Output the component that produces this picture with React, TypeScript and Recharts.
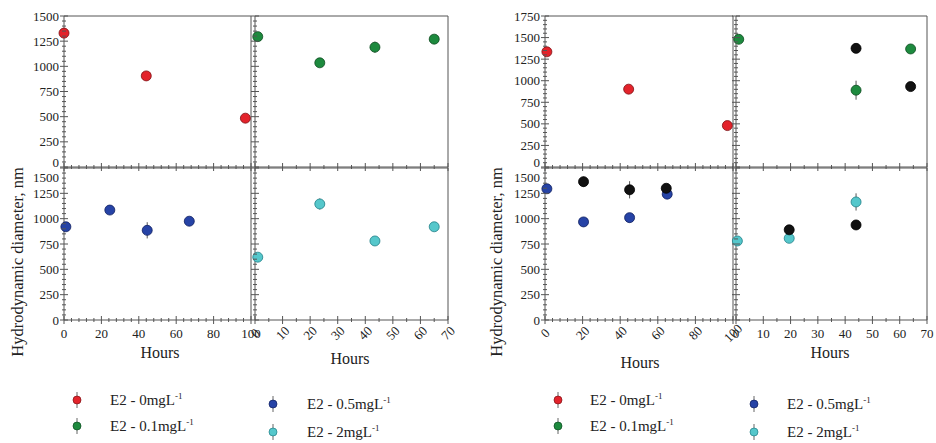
import { ScatterChart, Scatter, XAxis, YAxis, ErrorBar } from 'recharts';

const FONT = '"Liberation Serif", "Times New Roman", serif';

// left figure
const leftRedHours = [0, 44, 97];
const leftRedSize = [1330, 905, 485];
const leftRedErr = [0, 0, 0];
const leftGreenHours = [1, 23.5, 43.5, 65];
const leftGreenSize = [1295, 1035, 1190, 1270];
const leftGreenErr = [20, 35, 55, 20];
const leftBlueHours = [1, 24.5, 44.5, 67];
const leftBlueSize = [920, 1085, 885, 975];
const leftBlueErr = [20, 20, 80, 20];
const leftCyanHours = [1, 23.5, 43.5, 65];
const leftCyanSize = [620, 1145, 780, 920];
const leftCyanErr = [20, 55, 20, 20];

// right figure
const rightRedHours = [1, 44.5, 97];
const rightRedSize = [1335, 902, 480];
const rightRedErr = [0, 0, 0];
const rightGreenHours = [1, 44, 64];
const rightGreenSize = [1480, 890, 1368];
const rightGreenErr = [30, 110, 20];
const rightBlackTopHours = [44, 64];
const rightBlackTopSize = [1375, 932];
const rightBlackTopErr = [55, 20];
const rightBlueHours = [1, 20.5, 45, 65];
const rightBlueSize = [1295, 968, 1010, 1242];
const rightBlueErr = [20, 20, 45, 20];
const rightBlackMidHours = [20.5, 45, 64.5];
const rightBlackMidSize = [1365, 1285, 1300];
const rightBlackMidErr = [50, 85, 30];
const rightCyanHours = [0.5, 19.5, 44];
const rightCyanSize = [780, 806, 1165];
const rightCyanErr = [20, 35, 85];
const rightBlackLowHours = [19.5, 44];
const rightBlackLowSize = [890, 938];
const rightBlackLowErr = [20, 20];

const legendLabels = ['E2 - 0mgL', 'E2 - 0.1mgL', 'E2 - 0.5mgL', 'E2 - 2mgL'];

const RED = { fill: '#e3232b', edge: '#7d1115' };
const GREEN = { fill: '#1d8a3e', edge: '#0c4a1f' };
const BLUE = { fill: '#2643a6', edge: '#10205f' };
const CYAN = { fill: '#55c7cb', edge: '#1f7f86' };
const BLACK = { fill: '#111111', edge: '#000000' };

const zip = (h: number[], d: number[], e: number[]) => h.map((v, i) => ({ h: v, d: d[i], e: e[i] }));

const range = (max: number, step: number) => {
  const out: number[] = [];
  for (let v = 0; v <= max + 1e-9; v += step) out.push(v);
  return out;
};

const AXIS = '#555';
const P = 40;
const tickText = { fontFamily: FONT, fontSize: 13 };

interface Series {
  data: { h: number; d: number; e: number }[];
  color: { fill: string; edge: string };
}

interface PanelProps {
  left: number;
  right: number;
  top: number;
  bottom: number;
  xMax: number;
  xMajor: number;
  xMinor: number;
  yMax: number;
  yLabels: boolean;
  xLabels: 'none' | 'flat' | 'rot';
  lower: boolean;
  series: Series[];
}

function Panel({ left, right, top, bottom, xMax, xMajor, xMinor, yMax, yLabels, xLabels, lower, series }: PanelProps) {
  const w = right - left;
  const h = bottom - top;
  const xTicks = range(xMax, xMinor);
  const yTicks = range(yMax, 50);

  const yTick = (side: 'left' | 'right') => (p: any) => {
    const v = p.payload.value;
    const major = v % 250 === 0;
    const len = major ? 4 : 2;
    let dy = 0;
    if (!lower && v === 0) dy = -5;
    if (lower && v === yMax) dy = 9;
    return (
      <g>
        <line x1={p.x - len} x2={p.x + len} y1={p.y} y2={p.y} stroke={AXIS} strokeWidth={1} />
        {side === 'left' && yLabels && major && (
          <text x={p.x - 5} y={p.y + dy} textAnchor="end" dominantBaseline="central" style={tickText} fill="#222">
            {v}
          </text>
        )}
      </g>
    );
  };

  const xTick = (side: 'top' | 'bottom') => (p: any) => {
    const v = p.payload.value;
    const major = Math.abs(v % xMajor) < 1e-9;
    const len = major ? 4 : 2;
    const show = side === 'bottom' && major && xLabels !== 'none';
    return (
      <g>
        <line x1={p.x} x2={p.x} y1={p.y - len} y2={p.y + len} stroke={AXIS} strokeWidth={1} />
        {show && xLabels === 'flat' && (
          <text x={p.x} y={p.y + 13} textAnchor="middle" dominantBaseline="central" style={tickText} fill="#222">
            {v}
          </text>
        )}
        {show && xLabels === 'rot' && (
          <text
            x={p.x}
            y={p.y + 13}
            textAnchor="middle"
            dominantBaseline="central"
            style={tickText}
            fill="#222"
            transform={`rotate(-45 ${p.x} ${p.y + 13})`}
          >
            {v}
          </text>
        )}
      </g>
    );
  };

  const m = P - 1;
  return (
    <div style={{ position: 'absolute', left: left - P, top: top - P }}>
      <ScatterChart width={w + 2 * P} height={h + 2 * P} margin={{ top: m, right: m, bottom: m, left: m }}>
        <XAxis
          type="number"
          dataKey="h"
          domain={[0, xMax]}
          ticks={xTicks}
          interval={0}
          height={1}
          tickSize={0}
          tickMargin={0}
          tickLine={false}
          stroke={AXIS}
          tick={xTick('bottom')}
        />
        <XAxis
          xAxisId="top"
          orientation="top"
          type="number"
          domain={[0, xMax]}
          ticks={xTicks}
          interval={0}
          height={1}
          tickSize={0}
          tickMargin={0}
          tickLine={false}
          stroke={AXIS}
          tick={xTick('top')}
        />
        <YAxis
          type="number"
          dataKey="d"
          domain={[0, yMax]}
          ticks={yTicks}
          interval={0}
          width={1}
          tickSize={0}
          tickMargin={0}
          tickLine={false}
          stroke={AXIS}
          tick={yTick('left')}
        />
        <YAxis
          yAxisId="right"
          orientation="right"
          type="number"
          domain={[0, yMax]}
          ticks={yTicks}
          interval={0}
          width={1}
          tickSize={0}
          tickMargin={0}
          tickLine={false}
          stroke={AXIS}
          tick={yTick('right')}
        />
        {series.map((s, i) => (
          <Scatter
            key={i}
            data={s.data}
            isAnimationActive={false}
            shape={(p: any) => (
              <circle cx={p.cx} cy={p.cy} r={5} fill={s.color.fill} stroke={s.color.edge} strokeWidth={0.8} />
            )}
          >
            <ErrorBar dataKey="e" direction="y" width={0} stroke="#555" strokeWidth={1} />
          </Scatter>
        ))}
      </ScatterChart>
    </div>
  );
}

function LegendItem({ x, y, color }: { x: number; y: number; color: { fill: string; edge: string } }) {
  return (
    <svg width={12} height={18} style={{ position: 'absolute', left: x - 6, top: y - 9 }}>
      <line x1={6} x2={6} y1={1} y2={17} stroke="#666" strokeWidth={1} />
      <circle cx={6} cy={9} r={4} fill={color.fill} stroke={color.edge} strokeWidth={0.7} />
    </svg>
  );
}

function LegendText({ x, y, label }: { x: number; y: number; label: string }) {
  return (
    <div style={{ position: 'absolute', left: x, top: y - 10, fontFamily: FONT, fontSize: 15, color: '#222', lineHeight: '20px', whiteSpace: 'nowrap' }}>
      {label}
      <sup style={{ fontSize: 9, verticalAlign: 'top', lineHeight: '12px' }}>-1</sup>
    </div>
  );
}

function Label({ x, y, text, rotate = false, size = 16 }: { x: number; y: number; text: string; rotate?: boolean; size?: number }) {
  return (
    <div
      style={{
        position: 'absolute',
        left: x,
        top: y,
        transform: `translate(-50%, -50%)${rotate ? ' rotate(-90deg)' : ''}`,
        fontFamily: FONT,
        fontSize: size,
        color: '#222',
        whiteSpace: 'nowrap',
      }}
    >
      {text}
    </div>
  );
}

export default function App() {
  const colors = [RED, GREEN, BLUE, CYAN];
  const legends = [
    { mx: 77, tx: 110 },
    { mx: 558, tx: 590 },
  ];
  return (
    <div style={{ position: 'absolute', left: 0, top: 0, width: 936, height: 443, background: '#fff', overflow: 'hidden' }}>
      {/* left figure */}
      <Panel left={64} right={251} top={16} bottom={167} xMax={100} xMajor={20} xMinor={4} yMax={1500} yLabels xLabels="none" lower={false}
        series={[{ data: zip(leftRedHours, leftRedSize, leftRedErr), color: RED }]} />
      <Panel left={255} right={448} top={16} bottom={167} xMax={70} xMajor={10} xMinor={5} yMax={1500} yLabels={false} xLabels="none" lower={false}
        series={[{ data: zip(leftGreenHours, leftGreenSize, leftGreenErr), color: GREEN }]} />
      <Panel left={64} right={251} top={168} bottom={320} xMax={100} xMajor={20} xMinor={4} yMax={1500} yLabels xLabels="flat" lower
        series={[{ data: zip(leftBlueHours, leftBlueSize, leftBlueErr), color: BLUE }]} />
      <Panel left={255} right={448} top={168} bottom={320} xMax={70} xMajor={10} xMinor={5} yMax={1500} yLabels={false} xLabels="rot" lower
        series={[{ data: zip(leftCyanHours, leftCyanSize, leftCyanErr), color: CYAN }]} />

      {/* right figure */}
      <Panel left={545} right={733} top={16} bottom={167} xMax={100} xMajor={20} xMinor={4} yMax={1750} yLabels xLabels="none" lower={false}
        series={[{ data: zip(rightRedHours, rightRedSize, rightRedErr), color: RED }]} />
      <Panel left={736} right={927} top={16} bottom={167} xMax={70} xMajor={10} xMinor={5} yMax={1750} yLabels={false} xLabels="none" lower={false}
        series={[
          { data: zip(rightGreenHours, rightGreenSize, rightGreenErr), color: GREEN },
          { data: zip(rightBlackTopHours, rightBlackTopSize, rightBlackTopErr), color: BLACK },
        ]} />
      <Panel left={545} right={733} top={168} bottom={320} xMax={100} xMajor={20} xMinor={4} yMax={1500} yLabels xLabels="rot" lower
        series={[
          { data: zip(rightBlueHours, rightBlueSize, rightBlueErr), color: BLUE },
          { data: zip(rightBlackMidHours, rightBlackMidSize, rightBlackMidErr), color: BLACK },
        ]} />
      <Panel left={736} right={927} top={168} bottom={320} xMax={70} xMajor={10} xMinor={5} yMax={1500} yLabels={false} xLabels="flat" lower
        series={[
          { data: zip(rightCyanHours, rightCyanSize, rightCyanErr), color: CYAN },
          { data: zip(rightBlackLowHours, rightBlackLowSize, rightBlackLowErr), color: BLACK },
        ]} />

      <Label x={18} y={262} text="Hydrodynamic diameter, nm" rotate size={16.5} />
      <Label x={497} y={262} text="Hydrodynamic diameter, nm" rotate size={16.5} />
      <Label x={160} y={353} text="Hours" />
      <Label x={350} y={359} text="Hours" />
      <Label x={640} y={363} text="Hours" />
      <Label x={830} y={353} text="Hours" />

      {legends.map((l, k) => (
        <div key={k}>
          <LegendItem x={l.mx} y={400} color={colors[0]} />
          <LegendText x={l.tx} y={400} label={legendLabels[0]} />
          <LegendItem x={l.mx} y={426} color={colors[1]} />
          <LegendText x={l.tx} y={426} label={legendLabels[1]} />
          <LegendItem x={l.mx + 196} y={404} color={colors[2]} />
          <LegendText x={l.tx + 197} y={404} label={legendLabels[2]} />
          <LegendItem x={l.mx + 196} y={432} color={colors[3]} />
          <LegendText x={l.tx + 197} y={432} label={legendLabels[3]} />
        </div>
      ))}
    </div>
  );
}
